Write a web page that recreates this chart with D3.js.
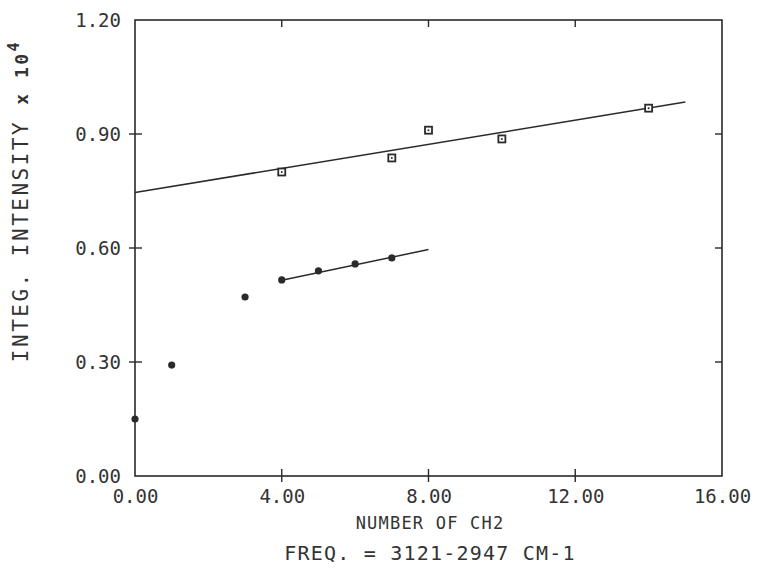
<!doctype html>
<html lang="en">
  <head>
    <title>Integrated intensity vs number of CH2</title>
    <style>
      body {
        margin: 0;
        background: #fff;
      }
      svg text {
        font-family: "DejaVu Sans Mono", monospace;
        fill: #333;
      }
    </style>
  </head>
  <body>
    <div id="chart"></div>
    <script src="https://cdn.jsdelivr.net/npm/d3@7"></script>
    <script>
      // values
      const squareX = [4, 7, 8, 10, 14]
      const squareY = [0.80, 0.837, 0.91, 0.887, 0.968]
      const squareFit = [[0, 0.746], [15, 0.984]]

      const dotX = [0, 1, 3, 4, 5, 6, 7]
      const dotY = [0.15, 0.292, 0.471, 0.516, 0.540, 0.558, 0.574]
      const dotFit = [[4, 0.515], [8, 0.596]]

      const xTicks = [0, 4, 8, 12, 16]
      const yTicks = [0, 0.3, 0.6, 0.9, 1.2]

      const width = 763
      const height = 578
      const m = { left: 135, right: 722, top: 20, bottom: 476 }
      const ink = '#2a2a2a'

      const x = d3.scaleLinear().domain([0, 16]).range([m.left, m.right])
      const y = d3.scaleLinear().domain([0, 1.2]).range([m.bottom, m.top])

      const svg = d3.select('#chart')
        .append('svg')
        .attr('width', width)
        .attr('height', height)

      // frame
      svg.append('rect')
        .attr('x', m.left).attr('y', m.top)
        .attr('width', m.right - m.left).attr('height', m.bottom - m.top)
        .attr('fill', 'none')
        .attr('stroke', ink)
        .attr('stroke-width', 1.6)

      // axes: labels through the axis generator, ticks drawn by hand below
      const xAxis = svg.append('g')
        .attr('transform', `translate(0,${m.bottom})`)
        .call(d3.axisBottom(x).tickValues(xTicks).tickSize(0).tickPadding(14)
          .tickFormat(d3.format('.2f')))
      xAxis.select('.domain').remove()
      xAxis.selectAll('text').attr('font-size', 19).attr('fill', '#333')
        .style('font-family', '"DejaVu Sans Mono", monospace')

      const yAxis = svg.append('g')
        .attr('transform', `translate(${m.left},0)`)
        .call(d3.axisLeft(y).tickValues(yTicks).tickSize(0).tickPadding(14)
          .tickFormat(d3.format('.2f')))
      yAxis.select('.domain').remove()
      yAxis.selectAll('text').attr('font-size', 19).attr('fill', '#333')
        .style('font-family', '"DejaVu Sans Mono", monospace')

      const inner = xTicks.slice(1, -1)
      const innerY = yTicks.slice(1, -1)
      const tick = svg.append('g').attr('stroke', ink).attr('stroke-width', 1.4)
      tick.selectAll('.bt').data(inner).enter().append('line')
        .attr('x1', d => x(d)).attr('x2', d => x(d))
        .attr('y1', m.bottom - 7).attr('y2', m.bottom + 6)
      tick.selectAll('.tt').data(inner).enter().append('line')
        .attr('x1', d => x(d)).attr('x2', d => x(d))
        .attr('y1', m.top).attr('y2', m.top + 7)
      tick.selectAll('.lt').data(innerY).enter().append('line')
        .attr('x1', m.left - 6).attr('x2', m.left + 7)
        .attr('y1', d => y(d)).attr('y2', d => y(d))
      tick.selectAll('.rt').data(innerY).enter().append('line')
        .attr('x1', m.right - 7).attr('x2', m.right)
        .attr('y1', d => y(d)).attr('y2', d => y(d))

      const line = d3.line().x(d => x(d[0])).y(d => y(d[1]))
      svg.append('path').datum(squareFit).attr('d', line)
        .attr('fill', 'none').attr('stroke', ink).attr('stroke-width', 1.5)
      svg.append('path').datum(dotFit).attr('d', line)
        .attr('fill', 'none').attr('stroke', ink).attr('stroke-width', 1.5)

      const squares = squareX.map((v, i) => [v, squareY[i]])
      const sq = svg.append('g').selectAll('g').data(squares).enter().append('g')
        .attr('transform', d => `translate(${x(d[0])},${y(d[1])})`)
      sq.append('rect')
        .attr('x', -3.5).attr('y', -3.5).attr('width', 7).attr('height', 7)
        .attr('fill', '#fff').attr('stroke', ink).attr('stroke-width', 1.8)
      sq.append('circle').attr('r', 1).attr('fill', ink)

      const dots = dotX.map((v, i) => [v, dotY[i]])
      svg.append('g').selectAll('circle').data(dots).enter().append('circle')
        .attr('cx', d => x(d[0])).attr('cy', d => y(d[1]))
        .attr('r', 3.6).attr('fill', ink)

      // titles
      svg.append('text')
        .attr('transform', 'translate(28,201) rotate(-90)')
        .attr('text-anchor', 'middle')
        .attr('font-size', 21)
        .attr('letter-spacing', 2.5)
        .text('INTEG. INTENSITY ')
        .append('tspan').attr('font-weight', 'bold').attr('font-size', 18).text('x 10')
        .append('tspan').attr('dy', -9).attr('font-size', 15).text('4')

      svg.append('text')
        .attr('x', 430).attr('y', 529)
        .attr('text-anchor', 'middle')
        .attr('font-size', 17)
        .attr('letter-spacing', 1.2)
        .text('NUMBER OF CH2')

      svg.append('text')
        .attr('x', 430).attr('y', 560)
        .attr('text-anchor', 'middle')
        .attr('font-size', 20)
        .attr('letter-spacing', 1.2)
        .text('FREQ. = 3121-2947 CM-1')
    </script>
  </body>
</html>
